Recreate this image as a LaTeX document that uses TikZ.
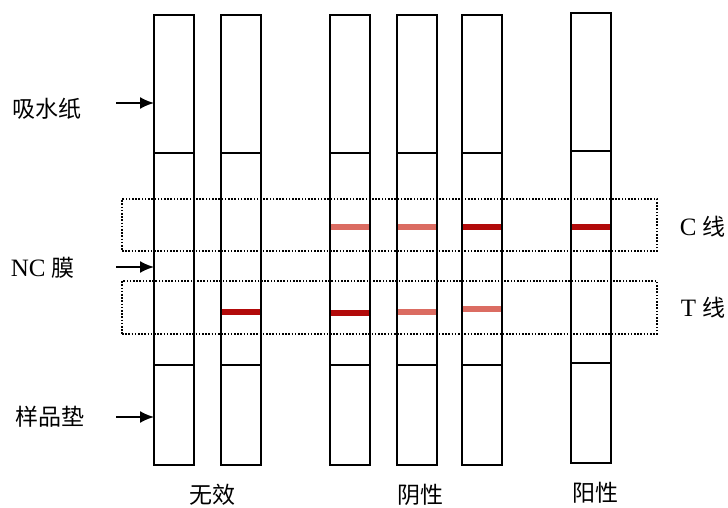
\documentclass[tikz,border=0pt]{standalone}
\usepackage{fontspec}
\setmainfont{Liberation Serif}
\newfontfamily\cjk{Noto Sans CJK SC}
\usetikzlibrary{arrows.meta}
\definecolor{bandDark}{HTML}{B20A0A}
\definecolor{bandLight}{HTML}{DB6C62}

\begin{document}
\begin{tikzpicture}[x=1pt,y=-1pt,line width=1.5pt,
  strip/.style={draw,rectangle,minimum width=40pt,minimum height=450pt,inner sep=0pt,outer sep=0pt},
  zone/.style={draw,rectangle,line width=1.6pt,dash pattern=on 1.6pt off 1.6pt,inner sep=0pt,outer sep=0pt},
  band/.style={line width=6pt,shorten <=0.8pt,shorten >=0.8pt},
  lbl/.style={font=\fontsize{23}{27}\selectfont,inner sep=0pt},
  pointer/.style={-{Latex[length=14pt,width=12pt]},line width=1.8pt}]
  \useasboundingbox (0,0) rectangle (728,508);
  \node[zone,minimum width=535pt,minimum height=52pt] (czone) at (389.5,225) {};
  \node[zone,minimum width=535pt,minimum height=53pt] (tzone) at (389.5,307.5) {};
  \def\strip(#1)(#2)(#3){%
    \node[strip] (#1) at ({#2+20},{240+#3}) {};
    \draw ({#2},{153+#3}) -- ({#2+40},{153+#3});
    \draw ({#2},{365+#3}) -- ({#2+40},{365+#3});
  }
  \strip(s1)(154)(0)
  \strip(s2)(221)(0)
  \strip(s3)(330)(0)
  \strip(s4)(397)(0)
  \strip(s5)(462)(0)
  \strip(s6)(571)(-2)
  \foreach \s/\col in {s3/bandLight,s4/bandLight,s5/bandDark,s6/bandDark}
    \draw[band,\col] (\s.west |- 0,227) -- (\s.east |- 0,227);
  \foreach \s/\col/\y in {s2/bandDark/312,s3/bandDark/313,s4/bandLight/312,s5/bandLight/309}
    \draw[band,\col] (\s.west |- 0,\y) -- (\s.east |- 0,\y);
  \node[lbl,anchor=west] (absorb) at (12,109) {\cjk 吸水纸};
  \node[lbl,anchor=west] (nc) at (10,268) {\fontsize{25}{27}\selectfont NC {\cjk\fontsize{23}{27}\selectfont 膜}};
  \node[lbl,anchor=west] (pad) at (15,417) {\cjk 样品垫};
  \coordinate (absorbtail) at (116,103);
  \coordinate (nctail) at (116,267);
  \coordinate (padtail) at (116,417);
  \draw[pointer] (absorbtail) -- (absorbtail -| s1.west);
  \draw[pointer] (nctail) -- (nctail -| s1.west);
  \draw[pointer] (padtail) -- (padtail -| s1.west);
  \node[lbl,anchor=west] (clabel) at (679,227) {\fontsize{25}{27}\selectfont C {\cjk\fontsize{23}{27}\selectfont 线}};
  \node[lbl,anchor=west] (tlabel) at (680,308) {\fontsize{25}{27}\selectfont T {\cjk\fontsize{23}{27}\selectfont 线}};
  \node[lbl] (invalid) at (212,495) {\cjk 无效};
  \node[lbl] (negative) at (420,495) {\cjk 阴性};
  \node[lbl] (positive) at (595,493) {\cjk 阳性};
\end{tikzpicture}
\end{document}
